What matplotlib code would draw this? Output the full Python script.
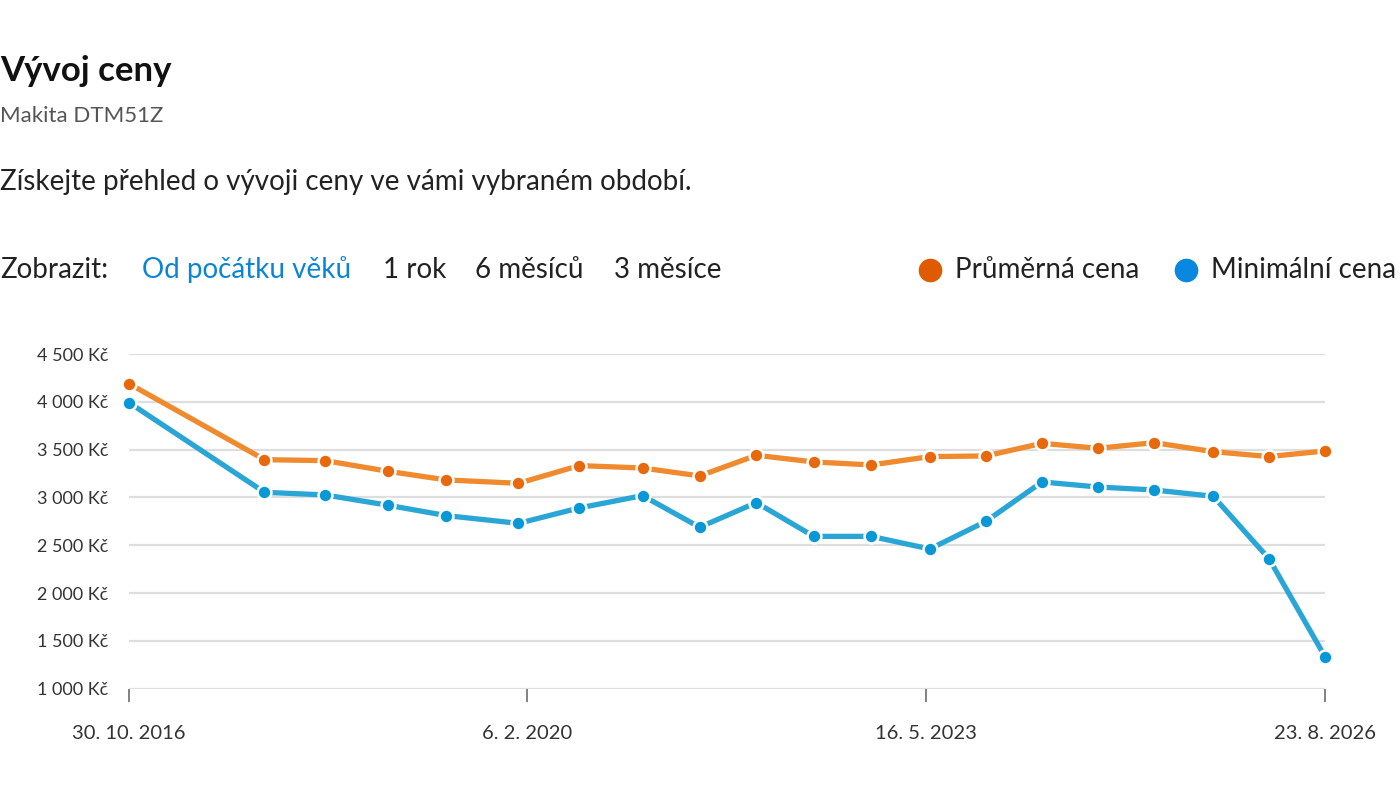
import matplotlib
matplotlib.use("Agg")
import matplotlib.pyplot as plt
import pandas as pd

plt.rcParams["font.family"] = ["Lato", "DejaVu Sans"]

dates = pd.to_datetime([
    "2016-10-30", "2017-12-10", "2018-06-10", "2018-12-16", "2019-06-08",
    "2020-01-10", "2020-07-10", "2021-01-16", "2021-07-06", "2021-12-23",
    "2022-06-13", "2022-12-02", "2023-05-27", "2023-11-11", "2024-04-27",
    "2024-10-12", "2025-03-29", "2025-09-22", "2026-03-08", "2026-08-23",
])
avg_price = [4190, 3395, 3385, 3273, 3183, 3148, 3333, 3308, 3225, 3441,
             3371, 3340, 3427, 3434, 3566, 3514, 3573, 3479, 3427, 3486]
min_price = [3992, 3054, 3026, 2918, 2810, 2729, 2890, 3019, 2688, 2946,
             2593, 2593, 2461, 2750, 3162, 3109, 3078, 3012, 2360, 1335]
y_ticks = [1000, 1500, 2000, 2500, 3000, 3500, 4000, 4500]
x_ticks = pd.to_datetime(["2016-10-30", "2020-02-06", "2023-05-16", "2026-08-23"])
x_labels = ["30. 10. 2016", "6. 2. 2020", "16. 5. 2023", "23. 8. 2026"]
periods = ["Od počátku věků", "1 rok", "6 měsíců", "3 měsíce"]

ORANGE_LINE = "#f08a2e"
ORANGE_DOT = "#e8680c"
BLUE_LINE = "#2aa6d6"
BLUE_DOT = "#0898d6"
TEXT = "#222222"

fig = plt.figure(figsize=(14, 8.06), dpi=100)
ax = fig.add_axes([129 / 1400, 1 - 688.7 / 806, 1196 / 1400, 334.7 / 806])

for vals, lc, mc in [(avg_price, ORANGE_LINE, ORANGE_DOT), (min_price, BLUE_LINE, BLUE_DOT)]:
    ax.plot(dates, vals, color=lc, lw=3.8, zorder=3, solid_capstyle="round")
    ax.plot(dates, vals, ls="none", marker="o", ms=10, mfc=mc, mec="white",
            mew=1.8, zorder=4, clip_on=False)

ax.set_xlim(dates[0], dates[-1])
ax.set_ylim(1000, 4500)
ax.set_yticks(y_ticks)
ax.set_yticklabels([f"{v:,} Kč".replace(",", " ") for v in y_ticks])
ax.set_xticks(x_ticks)
ax.set_xticklabels(x_labels)
ax.grid(axis="y", color="#dedede", lw=1.6, zorder=0)
for s in ax.spines.values():
    s.set_visible(False)
ax.tick_params(axis="y", length=0, pad=15, labelsize=13, labelcolor="#333333")
ax.tick_params(axis="x", length=9, width=1.3, color="#777777", pad=17,
               labelsize=14.5, labelcolor="#333333")

# header texts
fig.text(0, 1 - 71 / 806, "Vývoj ceny", fontsize=25, fontweight="bold",
         color="#111111", va="center", ha="left")
fig.text(0, 1 - 116 / 806, "Makita DTM51Z", fontsize=16, color="#555555",
         va="center", ha="left")
fig.text(0, 1 - 182 / 806, "Získejte přehled o vývoji ceny ve vámi vybraném období.",
         fontsize=20, color=TEXT, va="center", ha="left")

row_y = 1 - 270 / 806
fig.text(0, row_y, "Zobrazit:", fontsize=20, color=TEXT, va="center", ha="left")
period_x = [142, 383, 475, 614]
for i, (p, px) in enumerate(zip(periods, period_x)):
    fig.text(px / 1400, row_y, p, fontsize=20, va="center", ha="left",
             color="#0a84d6" if i == 0 else TEXT)

for cx, tx, label, col in [(930, 955, "Průměrná cena", "#e05a00"),
                           (1186, 1211, "Minimální cena", "#0a88e0")]:
    fig.lines.append(plt.Line2D([cx / 1400], [row_y], transform=fig.transFigure,
                                marker="o", ms=16, color=col, ls="none"))
    fig.text(tx / 1400, row_y, label, fontsize=20, color=TEXT, va="center", ha="left")

fig.savefig("out.png", dpi=100, facecolor="white")
